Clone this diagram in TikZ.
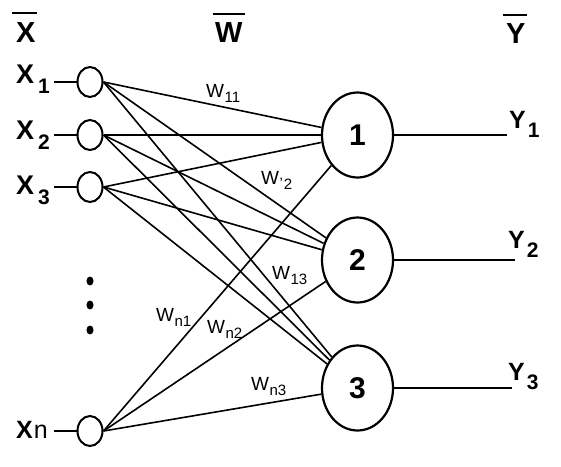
\documentclass[tikz,border=0pt]{standalone}
\usepackage{fontspec}
\setmainfont{Liberation Sans}
\usetikzlibrary{shapes.geometric}
\newcommand\myxsub[1]{{\fontsize{27}{27}\selectfont\bfseries X\hspace{4pt}\raisebox{-10pt}{\fontsize{21}{21}\selectfont #1}}}
\newcommand\myysub[1]{{\fontsize{25}{25}\selectfont\bfseries Y\hspace{2pt}\raisebox{-9pt}{\fontsize{21}{21}\selectfont #1}}}
\newcommand\mywsub[1]{{\fontsize{19}{19}\selectfont W\hspace{0.5pt}\raisebox{-5pt}{\fontsize{15}{15}\selectfont #1}}}
\begin{document}
\begin{tikzpicture}[x=1pt,y=-1pt,
  inp/.style={draw,ellipse,line width=2pt,minimum width=25pt,minimum height=30pt,inner sep=0pt},
  outp/.style={draw,ellipse,line width=2.2pt,minimum width=71pt,minimum height=85pt,inner sep=0pt,font=\fontsize{30}{30}\selectfont\bfseries},
  conn/.style={line width=1.6pt},
  stub/.style={line width=1.7pt},
  lab/.style={anchor=base west,inner sep=0pt},
  head/.style={anchor=base west,inner sep=0pt,font=\fontsize{29}{29}\selectfont\bfseries},
  bar/.style={line width=1.8pt},
  dotm/.style={fill=black,draw=none,ellipse,minimum width=7pt,minimum height=9pt,inner sep=0pt}
]
\useasboundingbox[fill=white] (0,0) rectangle (561,466);

% headers
\node[head] (hx) at (16,42) {X};
\node[head] (hw) at (215,42) {W};
\node[head] (hy) at (506,43) {Y};
\coordinate (hx1) at (12,13); \coordinate (hx2) at (37,13);
\coordinate (hw1) at (213,14); \coordinate (hw2) at (245,14);
\coordinate (hy1) at (503,15); \coordinate (hy2) at (527,15);
\draw[bar] (hx1) -- (hx2);
\draw[bar] (hw1) -- (hw2);
\draw[bar] (hy1) -- (hy2);

% input labels
\node[lab] (lx1) at (16,83) {\myxsub{1}};
\node[lab] (lx2) at (16,139) {\myxsub{2}};
\node[lab] (lx3) at (16,194) {\myxsub{3}};
\node[lab] (lxn) at (16,438) {\fontsize{25}{25}\selectfont\textbf{X}\hspace{1pt}n};

% input neurons
\node[inp] (x1) at (90,82) {};
\node[inp] (x2) at (90,135) {};
\node[inp] (x3) at (90,187) {};
\node[inp] (xn) at (90,431) {};

\coordinate (s1) at (54,82);
\coordinate (s2) at (54,135);
\coordinate (s3) at (54,187);
\coordinate (sn) at (54,431);
\draw[stub] (s1) -- (x1);
\draw[stub] (s2) -- (x2);
\draw[stub] (s3) -- (x3);
\draw[stub] (sn) -- (xn);

% dots
\node[dotm] (d1) at (90,281) {};
\node[dotm] (d2) at (90,305) {};
\node[dotm] (d3) at (90,330) {};

% output neurons
\node[outp] (o1) at (357.5,135) {1};
\node[outp] (o2) at (357.5,260) {2};
\node[outp] (o3) at (357.5,388) {3};

% connections
\foreach \i in {x1,x2,x3,xn}{
  \foreach \j in {o1,o2,o3}{
    \draw[conn] (\i.east) -- (\j);
  }
}

% outputs
\coordinate (e1) at (507,135);
\coordinate (e2) at (515,260);
\coordinate (e3) at (512,388);
\draw[stub] (o1) -- (e1);
\draw[stub] (o2) -- (e2);
\draw[stub] (o3) -- (e3);
\node[lab] (ly1) at (509,128) {\myysub{1}};
\node[lab] (ly2) at (508,248) {\myysub{2}};
\node[lab] (ly3) at (508,380) {\myysub{3}};

% weight labels
\node[lab] (w11) at (206,97) {\mywsub{11}};
\node[lab] (w12) at (261,184) {\mywsub{\raisebox{1pt}{\fontsize{15}{15}\selectfont\textquoteright}\kern1pt 2}};
\node[lab] (w13) at (272,279) {\mywsub{13}};
\node[lab] (wn1) at (156,321) {\mywsub{n1}};
\node[lab] (wn2) at (207,333) {\mywsub{n2}};
\node[lab] (wn3) at (251,390) {\mywsub{n3}};
\end{tikzpicture}
\end{document}
